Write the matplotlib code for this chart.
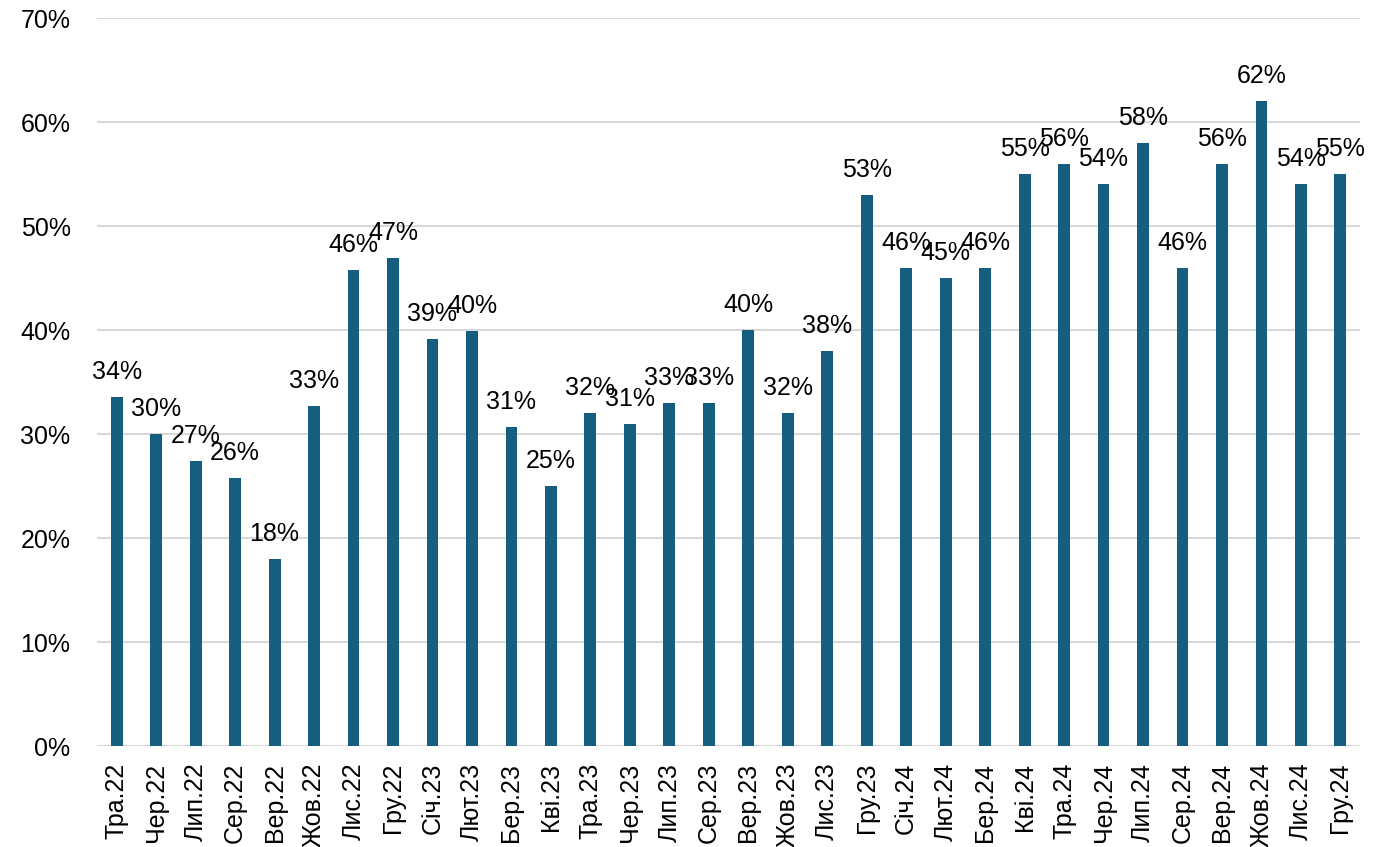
import matplotlib
matplotlib.use("Agg")
import matplotlib.pyplot as plt
from matplotlib.ticker import PercentFormatter

plt.rcParams["font.family"] = ["Liberation Sans", "DejaVu Sans"]

# Monthly share, %
months = [
    "Тра.22", "Чер.22", "Лип.22", "Сер.22", "Вер.22", "Жов.22", "Лис.22", "Гру.22",
    "Січ.23", "Лют.23", "Бер.23", "Кві.23", "Тра.23", "Чер.23", "Лип.23", "Сер.23",
    "Вер.23", "Жов.23", "Лис.23", "Гру.23", "Січ.24", "Лют.24", "Бер.24", "Кві.24",
    "Тра.24", "Чер.24", "Лип.24", "Сер.24", "Вер.24", "Жов.24", "Лис.24", "Гру.24",
]
values = [
    33.6, 30.0, 27.4, 25.8, 18.0, 32.7, 45.8, 46.9,
    39.1, 39.9, 30.7, 25.0, 32.0, 31.0, 33.0, 33.0,
    40.0, 32.0, 38.0, 53.0, 46.0, 45.0, 46.0, 55.0,
    56.0, 54.0, 58.0, 46.0, 56.0, 62.0, 54.0, 55.0,
]
y_ticks = [0, 10, 20, 30, 40, 50, 60, 70]

bar_color = "#165E80"
grid_color = "#D9D9D9"

fig = plt.figure(figsize=(13.89, 8.47), dpi=100)
ax = fig.add_axes([0.0698, 0.1192, 0.9094, 0.8595])

x = list(range(len(months)))
ax.bar(x, values, width=0.30, color=bar_color, zorder=3)

for xi, v in zip(x, values):
    ax.annotate(f"{v:.0f}%", (xi, v), xytext=(0, 13), textcoords="offset points",
                ha="center", va="baseline", fontsize=18, color="#000000", zorder=4)

ax.set_xlim(-0.5, len(months) - 0.5)
ax.set_ylim(0, 70)
ax.set_yticks(y_ticks)
ax.yaxis.set_major_formatter(PercentFormatter(decimals=0))
ax.set_xticks(x)
ax.set_xticklabels(months, rotation=90, va="top", ha="center")

ax.grid(axis="y", color=grid_color, linewidth=1.5, zorder=0)
ax.tick_params(axis="both", length=0, labelsize=18, colors="#000000")
ax.tick_params(axis="y", pad=19)
ax.tick_params(axis="x", pad=12)
for s in ax.spines.values():
    s.set_visible(False)

fig.savefig("out.png", dpi=100)
